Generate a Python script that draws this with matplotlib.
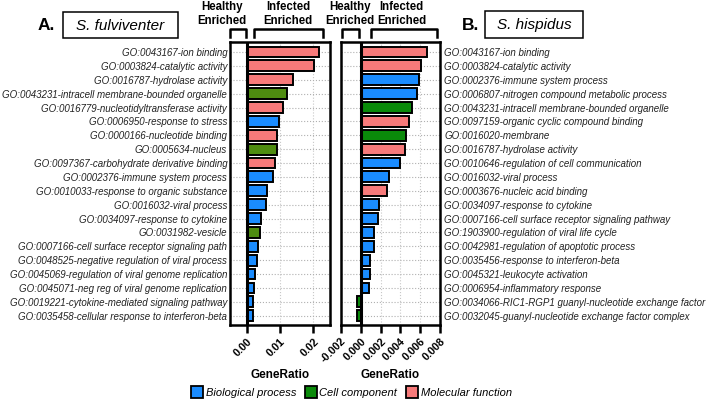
import matplotlib
matplotlib.use('Agg')
import matplotlib.pyplot as plt
from matplotlib.lines import Line2D
from matplotlib.patches import Rectangle

plt.rcParams['font.family'] = ['Liberation Sans', 'DejaVu Sans']

# --- data ---
left_terms = ['GO:0043167-ion binding', 'GO:0003824-catalytic activity',
              'GO:0016787-hydrolase activity', 'GO:0043231-intracell membrane-bounded organelle',
              'GO:0016779-nucleotidyltransferase activity', 'GO:0006950-response to stress',
              'GO:0000166-nucleotide binding', 'GO:0005634-nucleus',
              'GO:0097367-carbohydrate derivative binding', 'GO:0002376-immune system process',
              'GO:0010033-response to organic substance', 'GO:0016032-viral process',
              'GO:0034097-response to cytokine', 'GO:0031982-vesicle',
              'GO:0007166-cell surface receptor signaling path',
              'GO:0048525-negative regulation of viral process',
              'GO:0045069-regulation of viral genome replication',
              'GO:0045071-neg reg of viral genome replication',
              'GO:0019221-cytokine-mediated signaling pathway',
              'GO:0035458-cellular response to interferon-beta']
left_vals = [0.0217, 0.0202, 0.0139, 0.0121, 0.0108, 0.0097, 0.0091, 0.0091, 0.0086, 0.0079,
             0.0061, 0.0057, 0.0043, 0.0041, 0.0035, 0.0031, 0.0025, 0.0022, 0.0019, 0.0018]
left_cats = ['MF', 'MF', 'MF', 'CC', 'MF', 'BP', 'MF', 'CC', 'MF', 'BP',
             'BP', 'BP', 'BP', 'CC', 'BP', 'BP', 'BP', 'BP', 'BP', 'BP']

right_terms = ['GO:0043167-ion binding', 'GO:0003824-catalytic activity',
               'GO:0002376-immune system process', 'GO:0006807-nitrogen compound metabolic process',
               'GO:0043231-intracell membrane-bounded organelle',
               'GO:0097159-organic cyclic compound binding', 'GO:0016020-membrane',
               'GO:0016787-hydrolase activity', 'GO:0010646-regulation of cell communication',
               'GO:0016032-viral process', 'GO:0003676-nucleic acid binding',
               'GO:0034097-response to cytokine', 'GO:0007166-cell surface receptor signaling pathway',
               'GO:1903900-regulation of viral life cycle', 'GO:0042981-regulation of apoptotic process',
               'GO:0035456-response to interferon-beta', 'GO:0045321-leukocyte activation',
               'GO:0006954-inflammatory response',
               'GO:0034066-RIC1-RGP1 guanyl-nucleotide exchange factor',
               'GO:0032045-guanyl-nucleotide exchange factor complex']
right_vals = [0.00667, 0.00612, 0.00586, 0.00572, 0.00521, 0.00490, 0.00454, 0.00444, 0.00393,
              0.00281, 0.00264, 0.00183, 0.00176, 0.00135, 0.00132, 0.00088, 0.00088, 0.00081,
              -0.00038, -0.00038]
right_cats = ['MF', 'MF', 'BP', 'BP', 'CC', 'MF', 'CC', 'MF', 'BP',
              'BP', 'MF', 'BP', 'BP', 'BP', 'BP', 'BP', 'BP', 'BP', 'CC', 'CC']

left_ticks = [0.00, 0.01, 0.02]
right_ticks = [-0.002, 0.000, 0.002, 0.004, 0.006, 0.008]

legend_names = ['Biological process', 'Cell component', 'Molecular function']

blue = '#1a8cff'
pink = '#f77a7a'
left_colors = {'BP': blue, 'CC': '#4e8c10', 'MF': pink}
right_colors = {'BP': blue, 'CC': '#0a8a0a', 'MF': pink}

W, H = 708, 403
fig = plt.figure(figsize=(7.08, 4.03), dpi=100)


def fx(x):
    return x / W


def fy(y):
    return 1 - y / H


ax1 = fig.add_axes([fx(230), fy(325), fx(100), 283 / H])
ax2 = fig.add_axes([fx(341), fy(325), fx(99), 283 / H])


def draw_panel(ax, terms, vals, cats, colors, ticks, xlim):
    ypos = list(range(len(terms)))
    ax.barh(ypos, vals, height=0.78, color=[colors[c] for c in cats],
            edgecolor='black', linewidth=1.4, zorder=3)
    ax.axvline(0, color='black', lw=2.2, zorder=4)
    ax.set_xlim(*xlim)
    ax.set_ylim(len(terms) - 1 + 0.67, -0.72)
    ax.set_yticks(ypos)
    ax.set_xticks(ticks)
    ax.set_xticklabels([f'{t:.2f}' if xlim[1] > 0.01 else f'{t:.3f}' for t in ticks],
                       rotation=45, ha='right', rotation_mode='anchor',
                       fontsize=7.8, fontweight='bold')
    for t in ticks:
        ax.axvline(t, color='#c8c8c8', lw=0.8, ls=':', zorder=1)
    for y in ypos:
        ax.axhline(y, color='#b0b0b0', lw=0.8, ls=':', zorder=1)
    for s in ax.spines.values():
        s.set_linewidth(1.8)
    ax.tick_params(axis='x', length=6, width=1.8, pad=2)
    ax.tick_params(axis='y', length=0)


draw_panel(ax1, left_terms, left_vals, left_cats, left_colors, left_ticks, (-0.005, 0.025))
draw_panel(ax2, right_terms, right_vals, right_cats, right_colors, right_ticks, (-0.002, 0.008))

ax1.set_yticklabels(left_terms, fontsize=7, style='italic', color='#222222')
ax1.tick_params(axis='y', pad=2)
ax2.yaxis.tick_right()
ax2.set_yticklabels(right_terms, fontsize=7, style='italic', color='#222222')
ax2.tick_params(axis='y', pad=3)


def bracket(x0, x1, ytop=29, ybot=36.5):
    fig.add_artist(Line2D([fx(x0), fx(x0), fx(x1), fx(x1)],
                          [fy(ybot), fy(ytop), fy(ytop), fy(ybot)],
                          color='black', lw=1.8))


bracket(230, 246)
bracket(254, 322.5)
bracket(341.5, 358.5)
bracket(370.5, 436.5)

for x, txt in [(222, 'Healthy\nEnriched'), (288, 'Infected\nEnriched'),
               (349.5, 'Healthy\nEnriched'), (401.5, 'Infected\nEnriched')]:
    fig.text(fx(x), fy(14), txt, ha='center', va='center', fontsize=8.3,
             fontweight='bold', linespacing=1.25)

# panel titles
fig.text(fx(46), fy(26), 'A.', ha='center', va='center', fontsize=12.5, fontweight='bold')
fig.add_artist(Rectangle((fx(63), fy(38)), fx(115), 26 / H, fill=False, ec='black', lw=1.1))
fig.text(fx(120.5), fy(25.5), 'S. fulviventer', ha='center', va='center', fontsize=11,
         style='italic')
fig.text(fx(471), fy(26), 'B.', ha='center', va='center', fontsize=12.5, fontweight='bold')
fig.add_artist(Rectangle((fx(485), fy(37.5)), fx(98), 26 / H, fill=False, ec='black', lw=1.1))
fig.text(fx(534), fy(25), 'S. hispidus', ha='center', va='center', fontsize=11,
         style='italic')

fig.text(fx(280), fy(375), 'GeneRatio', ha='center', va='center', fontsize=8.5, fontweight='bold')
fig.text(fx(390.5), fy(375), 'GeneRatio', ha='center', va='center', fontsize=8.5, fontweight='bold')

handles = [Line2D([], [], marker='s', ls='none', markersize=8, markerfacecolor=c,
                  markeredgecolor='black', markeredgewidth=1.3)
           for c in [blue, '#0a8a0a', pink]]
leg = fig.legend(handles, legend_names, loc='center', bbox_to_anchor=(fx(352), fy(393)),
                 ncol=3, frameon=False, handlelength=0.8, handletextpad=0.4,
                 columnspacing=0.9, prop={'size': 8, 'style': 'italic'})

fig.savefig('out.png', dpi=100)
